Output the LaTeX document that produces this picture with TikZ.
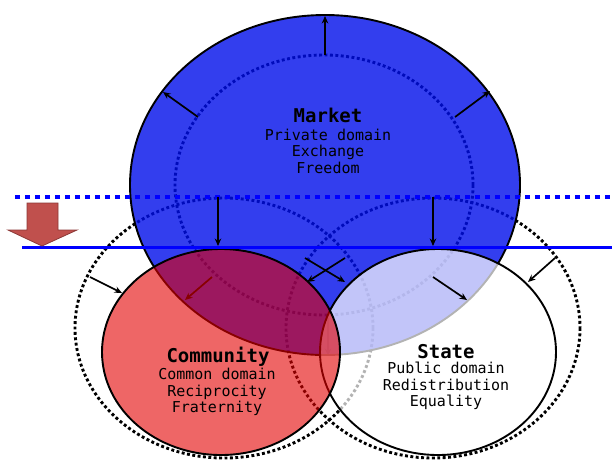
\documentclass[tikz,border=0pt]{standalone}
\usepackage{fontspec}
\setmonofont{DejaVu Sans Mono}
\usetikzlibrary{arrows.meta}
\definecolor{mkt}{RGB}{0,14,234}
\definecolor{com}{RGB}{227,0,0}
\definecolor{blk}{RGB}{192,80,77}
\definecolor{blkd}{RGB}{140,56,54}
\definecolor{lineblue}{RGB}{0,0,255}
\begin{document}
\begin{tikzpicture}[x=1pt,y=-1pt,
  oldring/.style={draw=black, line width=2.9pt, dash pattern=on 2.9pt off 2.5pt},
  ring/.style={draw=black, line width=1.9pt},
  arr/.style={draw=black, line width=1.7pt, -{Stealth[length=7.5pt,width=6.5pt]}},
  lbl/.style={font=\ttfamily\fontsize{15}{16.5}\selectfont, align=center, inner sep=0pt},
  ttl/.style={font=\ttfamily\bfseries\fontsize{19}{19}\selectfont, inner sep=0pt}]
\useasboundingbox (0,0) rectangle (612,459);
\clip (0,0) rectangle (612,459);
\fill[white] (0,0) rectangle (612,459);

% old positions (dotted)
\draw[oldring] (324,185) ellipse [x radius=149, y radius=130];
\draw[oldring] (224,328) ellipse [x radius=149, y radius=130];
\draw[oldring] (433,328) ellipse [x radius=147, y radius=130];

% arrow under everything
\coordinate (f1) at (328,318);
\coordinate (f2) at (328,356);
\draw[arr] (f1) -- (f2);

% market
\path[fill=mkt, fill opacity=0.8, ring] (325,185) ellipse [x radius=195, y radius=170];

% arrow under community
\coordinate (c1) at (212,277);
\coordinate (c2) at (185,300);
\draw[arr] (c1) -- (c2);

% state
\path[fill=white, fill opacity=0.7, ring] (438,352) ellipse [x radius=118, y radius=103];
% community
\path[fill=com, fill opacity=0.6, ring] (221,352) ellipse [x radius=119, y radius=103];

% horizontal lines
\coordinate (d1) at (15,197);
\coordinate (d2) at (612,197);
\draw[lineblue, line width=4.5pt, dash pattern=on 5pt off 5pt] (d1) -- (d2);
\coordinate (s1) at (22,247.5);
\coordinate (s2) at (612,247.5);
\draw[lineblue, line width=3.5pt] (s1) -- (s2);

% arrows on top
\coordinate (a1s) at (325,55);  \coordinate (a1e) at (325,16);
\coordinate (a2s) at (198,117); \coordinate (a2e) at (163,92);
\coordinate (a3s) at (455,117); \coordinate (a3e) at (490,91);
\coordinate (a4s) at (218,197); \coordinate (a4e) at (218,246);
\coordinate (a5s) at (433,197); \coordinate (a5e) at (433,246);
\coordinate (a6s) at (305,258); \coordinate (a6e) at (345,282);
\coordinate (a7s) at (345,258); \coordinate (a7e) at (307,282);
\coordinate (a8s) at (433,277); \coordinate (a8e) at (467,300);
\coordinate (a9s) at (555,258); \coordinate (a9e) at (528,282);
\coordinate (a10s) at (90,277); \coordinate (a10e) at (122,293);
\foreach \i in {1,...,10} {\draw[arr] (a\i s) -- (a\i e);}

% red block arrow
\draw[fill=blk, draw=blkd, line width=0.8pt, line join=miter]
  (27,203) -- (58,203) -- (58,230) -- (77,230) -- (42,246) -- (8,230) -- (27,230) -- cycle;

% texts
\node[ttl] (mktt) at (328,115) {Market};
\node[lbl] (mktx) at (328,151) {Private domain\\Exchange\\Freedom};
\node[ttl] (comt) at (218,357) {Community};
\node[lbl] (comx) at (217,392) {Common domain\\Reciprocity\\Fraternity};
\node[ttl] (stat) at (446,352) {State};
\node[lbl] (stax) at (446,386) {Public domain\\Redistribution\\Equality};
\end{tikzpicture}
\end{document}
